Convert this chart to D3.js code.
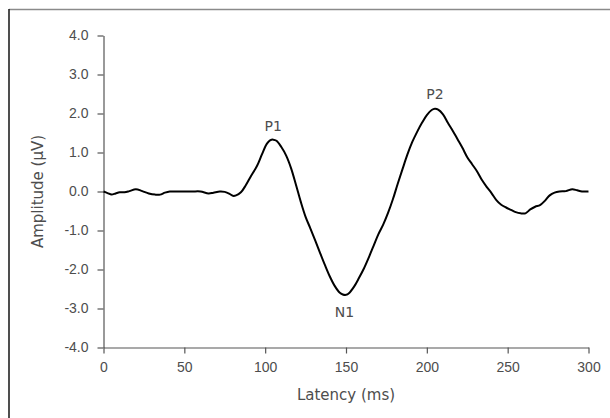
<!DOCTYPE html>
<html lang="en">
<head>
<meta charset="utf-8" />
<script src="https://d3js.org/d3.v7.min.js"></script>
<style>
html, body { margin: 0; background: #fff; overflow: hidden; }
svg { display: block; font-family: "DejaVu Sans", sans-serif; }
.axis text { fill: #4d4d4d; font-size: 14px; }
.axis path, .axis line { stroke: #555; stroke-width: 1.2; }
.title { fill: #4d4d4d; font-size: 15px; }
.peak { fill: #4d4d4d; font-size: 14px; }
</style>
</head>
<body>
<svg width="610" height="418"></svg>
<script>
// latency (ms) and amplitude (uV)
var latency = [0, 2.5, 5, 7.5, 10, 13, 16, 20, 24, 28, 32, 35, 38, 41, 45, 50, 55, 60, 65, 68, 72, 75, 78, 80, 82, 85, 88, 91, 95, 98,
  101, 103, 105, 107, 110, 113, 116, 119, 122, 125, 128, 131, 134, 137, 140, 143, 146, 148, 150, 152, 155, 158, 161, 164, 167, 170,
  173, 176, 179, 182, 185, 188, 191, 194, 197, 200, 203, 205, 207, 210, 213, 216, 219, 222, 225, 228, 231, 234, 237, 240, 243, 246,
  249, 252, 255, 258, 261, 264, 267, 270, 273, 276, 279, 282, 286, 290, 293, 296, 300];
var amplitude = [0.00, -0.04, -0.08, -0.05, -0.02, -0.02, 0.01, 0.06, 0.01, -0.05, -0.08, -0.08, -0.03, 0.00, 0.00, 0.00, 0.00, 0.00, -0.05, -0.03, 0.00, -0.01, -0.06, -0.11, -0.10, -0.02, 0.16, 0.38, 0.66, 0.95,
  1.22, 1.31, 1.33, 1.30, 1.14, 0.92, 0.60, 0.18, -0.26, -0.65, -0.95, -1.26, -1.58, -1.89, -2.18, -2.42, -2.59, -2.64, -2.65, -2.60, -2.44, -2.22, -1.98, -1.70, -1.40, -1.10,
  -0.85, -0.55, -0.20, 0.20, 0.58, 0.95, 1.27, 1.53, 1.76, 1.96, 2.09, 2.12, 2.10, 1.98, 1.76, 1.56, 1.34, 1.12, 0.88, 0.70, 0.52, 0.30, 0.12, -0.04, -0.22, -0.34,
  -0.41, -0.47, -0.53, -0.56, -0.56, -0.46, -0.39, -0.35, -0.24, -0.10, -0.03, 0.00, 0.01, 0.06, 0.03, 0.00, 0.00];

var xTicks = [0, 50, 100, 150, 200, 250, 300];
var yTicks = [4, 3, 2, 1, 0, -1, -2, -3, -4];

var peakNames = ["P1", "N1", "P2"];
var peakLatency = [105, 149, 205];
var peakLabelAmp = [1.68, -3.09, 2.49];

var svg = d3.select("svg"),
    width = +svg.attr("width"),
    height = +svg.attr("height");

var x = d3.scaleLinear().domain([0, 300]).range([103.5, 588.5]);
var y = d3.scaleLinear().domain([-4, 4]).range([347.5, 35.5]);

// frame: top and left edges only
svg.append("path")
    .attr("d", "M9,9.5H" + width)
    .attr("stroke", "#8a8a8a").attr("stroke-width", 1.4).attr("fill", "none");
svg.append("path")
    .attr("d", "M9,9V" + height)
    .attr("stroke", "#222").attr("stroke-width", 1.6).attr("fill", "none");

svg.append("g")
    .attr("class", "axis")
    .attr("transform", "translate(0," + y(-4) + ")")
    .call(d3.axisBottom(x).tickValues(xTicks).tickSize(6).tickSizeOuter(0).tickPadding(9));

svg.append("g")
    .attr("class", "axis")
    .attr("transform", "translate(" + x(0) + ",0)")
    .call(d3.axisLeft(y).tickValues(yTicks).tickSize(6).tickSizeOuter(0).tickPadding(9)
      .tickFormat(function(d) { return d.toFixed(1); }));

svg.append("text")
    .attr("class", "title")
    .attr("x", x(150))
    .attr("y", 400)
    .attr("text-anchor", "middle")
    .text("Latency (ms)");

svg.append("text")
    .attr("class", "title")
    .attr("transform", "translate(43," + y(0) + ") rotate(-90)")
    .attr("text-anchor", "middle")
    .text("Amplitude (\u03bcV)");

var line = d3.line()
    .x(function(d, i) { return x(latency[i]); })
    .y(function(d) { return y(d); })
    .curve(d3.curveCatmullRom);

svg.append("path")
    .datum(amplitude)
    .attr("fill", "none")
    .attr("stroke", "#000")
    .attr("stroke-width", 2)
    .attr("stroke-linejoin", "round")
    .attr("d", line);

svg.selectAll("text.peak")
    .data(peakNames)
  .enter().append("text")
    .attr("class", "peak")
    .attr("x", function(d, i) { return x(peakLatency[i]); })
    .attr("y", function(d, i) { return y(peakLabelAmp[i]); })
    .attr("dy", "0.36em")
    .attr("text-anchor", "middle")
    .text(function(d) { return d; });
</script>
</body>
</html>
